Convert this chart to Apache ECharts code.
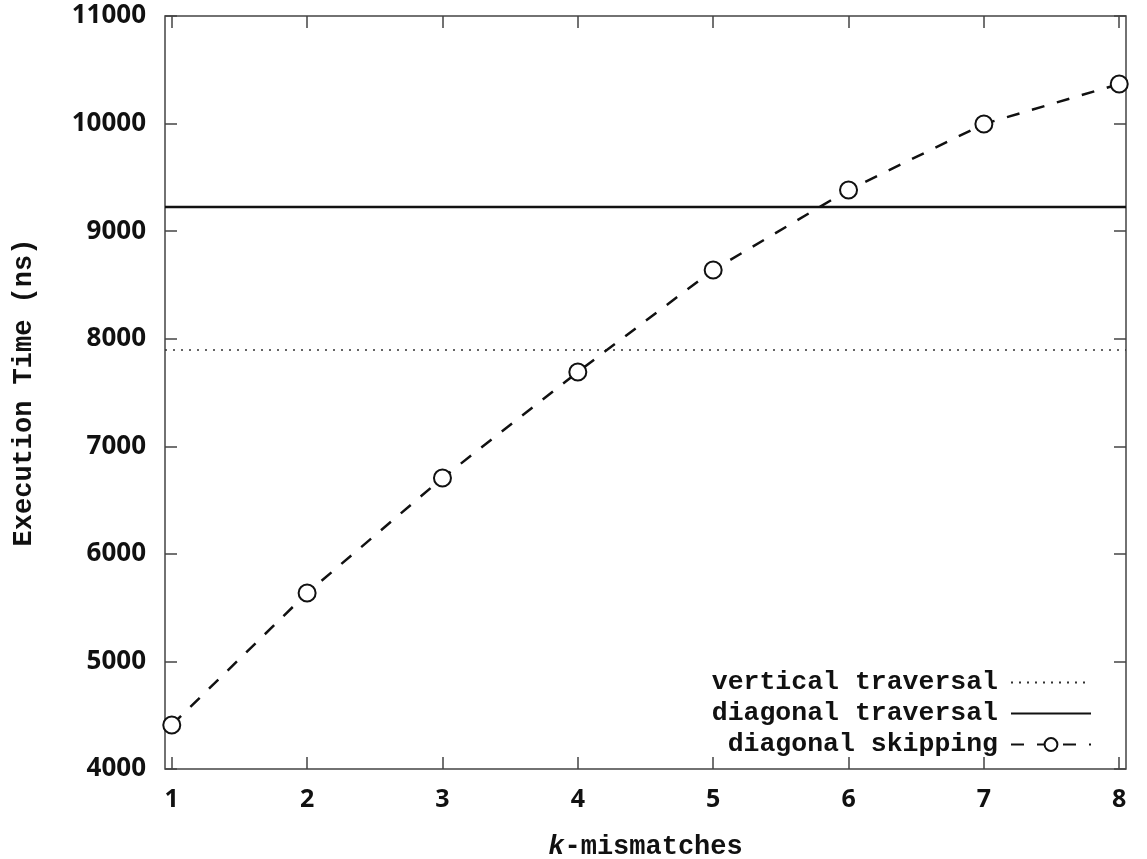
<!DOCTYPE html>
<html>
<head>
<meta charset="utf-8">
<script src="https://cdn.jsdelivr.net/npm/echarts@6/dist/echarts.min.js"></script>
<style>
  html, body { margin: 0; padding: 0; background: #fff; }
  #chart { width: 1147px; height: 859px; }
</style>
</head>
<body>
<div id="chart"></div>
<script>
const kValues = [1, 2, 3, 4, 5, 6, 7, 8]
const diagonalSkipping = [4409, 5636, 6705, 7691, 8639, 9383, 9996, 10368]
const verticalTraversal = 7895
const diagonalTraversal = 9224
const xRange = [0.95, 8.05]

const mono = '"Liberation Mono", "DejaVu Sans Mono", monospace'
const sans = '"Noto Sans", "Open Sans", sans-serif'
const chart = echarts.init(document.getElementById('chart'))

const tickStyle = { show: true, inside: true, length: 12, lineStyle: { color: '#444', width: 1.5 } }
// hide the legend dot for the plain line entries
const noDot = { color: 'rgba(0,0,0,0)', borderColor: 'rgba(0,0,0,0)', borderWidth: 0 }

chart.setOption({
  animation: false,
  grid: {
    left: 165, top: 16, right: 21, bottom: 90,
    outerBoundsMode: 'none',
    containLabel: false,
    show: true, borderColor: '#444', borderWidth: 1.5
  },
  legend: {
    orient: 'vertical',
    right: 50,
    bottom: 96,
    align: 'right',
    itemWidth: 80,
    itemHeight: 16,
    itemGap: 4,
    textStyle: { fontFamily: mono, fontWeight: 'bold', fontSize: 26.5, color: '#111', padding: [0, 8, 0, 0] },
    data: [
      { name: 'vertical traversal', itemStyle: noDot },
      { name: 'diagonal traversal', itemStyle: noDot },
      'diagonal skipping'
    ]
  },
  xAxis: [
    {
      type: 'value',
      min: xRange[0],
      max: xRange[1],
      axisLine: { show: false },
      axisTick: Object.assign({ customValues: kValues }, tickStyle),
      splitLine: { show: false },
      axisLabel: {
        customValues: kValues,
        fontFamily: sans, fontWeight: 'bold', fontSize: 25, color: '#111', margin: 18
      },
      name: '{i|k}-mismatches',
      nameLocation: 'middle',
      nameGap: 65,
      nameTextStyle: {
        fontFamily: mono, fontWeight: 'bold', fontSize: 27, color: '#111',
        rich: { i: { fontFamily: mono, fontWeight: 'bold', fontStyle: 'italic', fontSize: 27, color: '#111' } }
      }
    },
    {
      type: 'value',
      position: 'top',
      min: xRange[0],
      max: xRange[1],
      axisLine: { show: false },
      axisTick: Object.assign({ customValues: kValues }, tickStyle),
      axisLabel: { show: false },
      splitLine: { show: false }
    }
  ],
  yAxis: [
    {
      type: 'value',
      min: 4000,
      max: 11000,
      interval: 1000,
      axisLine: { show: false },
      axisTick: tickStyle,
      splitLine: { show: false },
      axisLabel: {
        fontFamily: sans, fontWeight: 'bold', fontSize: 26, color: '#111', margin: 19,
        padding: [9, 0, 0, 0],
        formatter: v => String(v)
      },
      name: 'Execution Time (ns)',
      nameLocation: 'middle',
      nameGap: 127,
      nameTextStyle: { fontFamily: mono, fontWeight: 'bold', fontSize: 27, color: '#111' }
    },
    {
      type: 'value',
      position: 'right',
      min: 4000,
      max: 11000,
      interval: 1000,
      axisLine: { show: false },
      axisTick: tickStyle,
      axisLabel: { show: false },
      splitLine: { show: false }
    }
  ],
  series: [
    {
      name: 'vertical traversal',
      type: 'line',
      symbol: 'none',
      data: [[xRange[0], verticalTraversal], [xRange[1], verticalTraversal]],
      lineStyle: { color: '#333', width: 1.5, type: [2, 6] },
      itemStyle: { color: '#333' }
    },
    {
      name: 'diagonal traversal',
      type: 'line',
      symbol: 'none',
      data: [[xRange[0], diagonalTraversal], [xRange[1], diagonalTraversal]],
      lineStyle: { color: '#111', width: 2.5 },
      itemStyle: { color: '#111' }
    },
    {
      name: 'diagonal skipping',
      type: 'line',
      symbol: 'emptyCircle',
      symbolSize: 17,
      data: kValues.map((k, i) => [k, diagonalSkipping[i]]),
      lineStyle: { color: '#111', width: 2.5, type: [13, 13] },
      itemStyle: { color: '#111', borderColor: '#111', borderWidth: 2.2 }
    }
  ]
})
</script>
</body>
</html>
